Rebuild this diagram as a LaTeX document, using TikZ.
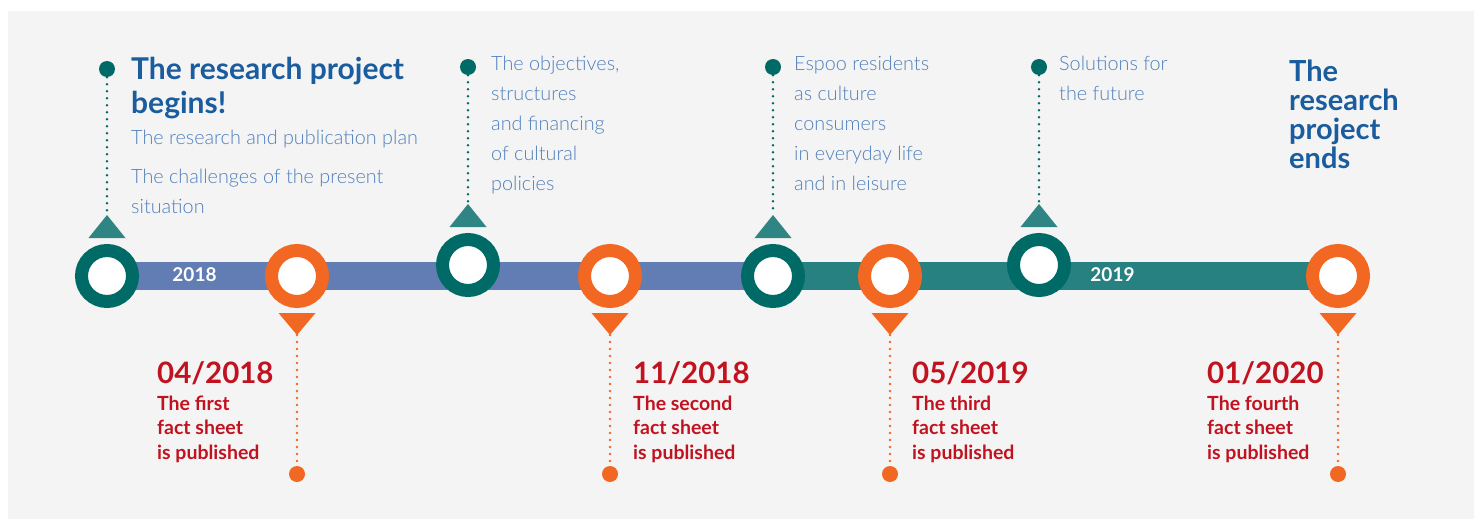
\documentclass[tikz,border=0pt]{standalone}
\usepackage{fontspec}
\setmainfont{Lato}
\newfontfamily\lightfont{Lato Light}
\usepackage{tikz}
\usetikzlibrary{calc}

\definecolor{bggray}{HTML}{F4F4F4}
\definecolor{darkteal}{HTML}{006B66}
\definecolor{midteal}{HTML}{2F8584}
\definecolor{barteal}{HTML}{278180}
\definecolor{barblue}{HTML}{617DB4}
\definecolor{fsorange}{HTML}{F26722}
\definecolor{fsred}{HTML}{C1121F}
\definecolor{headblue}{HTML}{1A5C9E}
\definecolor{textblue}{HTML}{4F80BC}

\tikzset{
  ring/.style={circle, draw=#1, fill=white, line width=13pt, minimum size=51pt, inner sep=0pt},
  bar/.style={line width=28pt},
  year/.style={text=white, font=\fontsize{19}{19}\selectfont\bfseries, inner sep=0pt},
  pin/.style={circle, fill=#1, minimum size=16pt, inner sep=0pt},
  dotline/.style={draw=#1, line width=2.8pt, line cap=round, dash pattern=on 0pt off 7pt},
  heading/.style={text=headblue, align=left, inner sep=0pt, anchor=base west},
  topic/.style={text=textblue, align=left, inner sep=0pt, anchor=base west, font=\lightfont\fontsize{19.8}{30}\selectfont},
  sheet/.style={text=fsred, align=left, inner sep=0pt, anchor=base west},
}

\begin{document}
\begin{tikzpicture}[x=1pt, y=-1pt]
  \useasboundingbox (0,0) rectangle (1474,519);
  \fill[bggray] (8,11) rectangle (1474,519);

  % Coordinates
  \foreach \i/\x/\y in {1/107/276, 2/468/265, 3/773/276, 4/1039/265}
    \coordinate (teal\i) at (\x,\y);
  \foreach \i/\x in {1/297, 2/610, 3/890, 4/1338}
    \coordinate (orange\i) at (\x,276);

  % Bars
  \draw[bar, barblue] (teal1) -- (teal3);
  \draw[bar, barteal] (teal3) -- (orange4);
  \node[year] (y2018) at (194.5,275) {2018};
  \node[year] (y2019) at (1112.5,275) {2019};

  % Teal milestones
  \foreach \i/\d in {1/69, 2/67, 3/67, 4/67} {
    \node[ring=darkteal] (tealring\i) at (teal\i) {};
    \fill[midteal] ($(teal\i)+(-18.5,-38)$) -- ++(37,0) -- ++(-18.5,-23) -- cycle;
    \coordinate (tealtip\i) at ($(teal\i)+(0,-61)$);
    \node[pin=darkteal] (tealdot\i) at (teal\i |- 0,\d) {};
    \draw[dotline=darkteal] (tealdot\i) -- (tealtip\i);
  }

  % Orange milestones
  \foreach \i in {1,...,4} {
    \node[ring=fsorange] (orangering\i) at (orange\i) {};
    \fill[fsorange] ($(orange\i)+(-18.5,37)$) -- ++(37,0) -- ++(-18.5,22) -- cycle;
    \coordinate (orangetip\i) at ($(orange\i)+(0,59)$);
    \node[pin=fsorange] (orangedot\i) at ($(orange\i)+(0,198)$) {};
    \draw[dotline=fsorange] (orangetip\i) -- (orangedot\i);
  }

  % Fact sheets (multi-line nodes sit on their last baseline)
  \foreach \i/\x/\m/\yr/\w in {1/157/04/2018/first, 2/633/11/2018/second, 3/912/05/2019/third, 4/1207/01/2020/fourth} {
    \node[sheet, font=\fontsize{29.5}{29.5}\selectfont\bfseries] (date\i) at (\x,383) {\m/\yr};
    \node[sheet, font=\fontsize{19.5}{24.5}\selectfont\bfseries] (sheet\i) at (\x,459) {The \w\\fact sheet\\is published};
  }

  % Topics
  \node[heading, font=\fontsize{30}{34}\selectfont\bfseries] (begins) at (131,113) {The research project\\begins!};
  \node[topic] (plan) at (131,213) {The research and publication plan\\[9pt]The challenges of the present\\situation};
  \node[topic] (policies) at (491,190) {The objectives,\\structures\\and financing\\of cultural\\policies};
  \node[topic] (residents) at (794,190) {Espoo residents\\as culture\\consumers\\in everyday life\\and in leisure};
  \node[topic] (solutions) at (1059,100) {Solutions for\\the future};
  \node[heading, font=\fontsize{29}{29}\selectfont\bfseries] (ends) at (1289,168) {The\\research\\project\\ends};
\end{tikzpicture}
\end{document}
